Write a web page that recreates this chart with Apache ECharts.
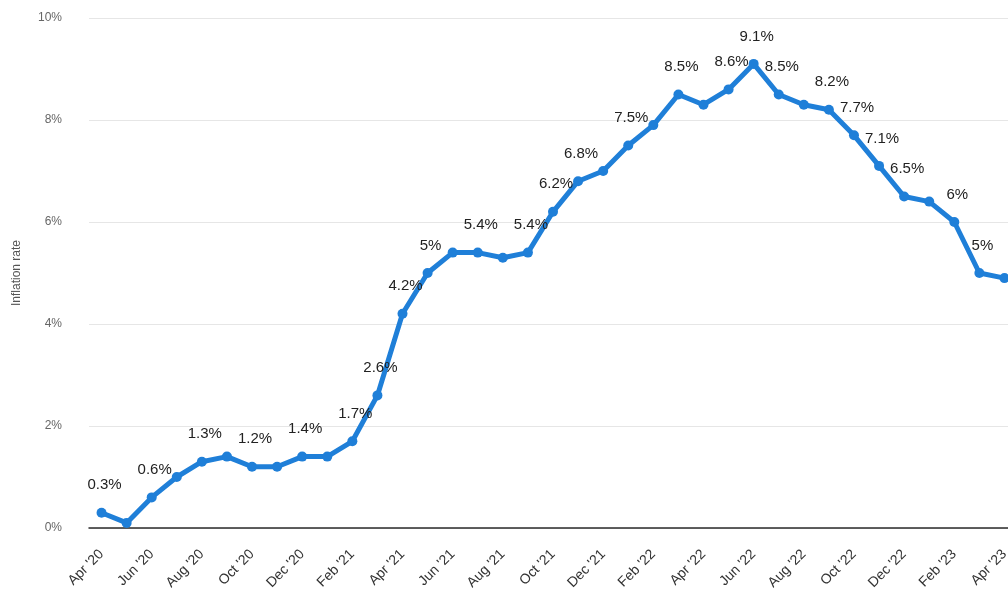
<!DOCTYPE html>
<html>
<head>
<meta charset="utf-8">
<style>
  html, body { margin: 0; padding: 0; background: #fff; }
  #chart { width: 1008px; height: 596px; }
</style>
<script src="https://cdn.jsdelivr.net/npm/echarts@6/dist/echarts.min.js"></script>
</head>
<body>
<div id="chart"></div>
<script>
// Monthly inflation rate, April 2020 – April 2023
const months = [
  "Apr '20", "May '20", "Jun '20", "Jul '20", "Aug '20", "Sep '20", "Oct '20", "Nov '20", "Dec '20",
  "Jan '21", "Feb '21", "Mar '21", "Apr '21", "May '21", "Jun '21", "Jul '21", "Aug '21", "Sep '21",
  "Oct '21", "Nov '21", "Dec '21", "Jan '22", "Feb '22", "Mar '22", "Apr '22", "May '22", "Jun '22",
  "Jul '22", "Aug '22", "Sep '22", "Oct '22", "Nov '22", "Dec '22", "Jan '23", "Feb '23", "Mar '23",
  "Apr '23"
];
const inflation = [
  0.3, 0.1, 0.6, 1.0, 1.3, 1.4, 1.2, 1.2, 1.4,
  1.4, 1.7, 2.6, 4.2, 5.0, 5.4, 5.4, 5.3, 5.4,
  6.2, 6.8, 7.0, 7.5, 7.9, 8.5, 8.3, 8.6, 9.1,
  8.5, 8.3, 8.2, 7.7, 7.1, 6.5, 6.4, 6.0, 5.0,
  4.9
];
// Months that carry a value label
const labeledMonths = [
  "Apr '20", "Jun '20", "Aug '20", "Oct '20", "Dec '20", "Feb '21", "Mar '21", "Apr '21", "May '21",
  "Jul '21", "Sep '21", "Oct '21", "Nov '21", "Jan '22", "Mar '22", "May '22", "Jun '22", "Jul '22",
  "Sep '22", "Oct '22", "Nov '22", "Dec '22", "Feb '23", "Mar '23"
];
const yTicks = { min: 0, max: 10, step: 2 };

const seriesData = inflation.map((v, i) => ({
  value: v,
  label: { show: labeledMonths.includes(months[i]) }
}));

const chart = echarts.init(document.getElementById('chart'), null, { renderer: 'canvas' });
chart.setOption({
  animation: false,
  backgroundColor: '#ffffff',
  grid: { left: 89, top: 18, bottom: 68, width: 928, outerBoundsMode: 'none', containLabel: false },
  xAxis: {
    type: 'category',
    data: months,
    boundaryGap: true,
    axisLine: { show: true, lineStyle: { color: '#2b2b2b', width: 1.5 } },
    axisTick: { show: false },
    axisLabel: {
      interval: 1,
      rotate: 45,
      color: '#333',
      fontSize: 14,
      fontFamily: 'Liberation Sans, Arial, sans-serif',
      margin: 24
    },
    splitLine: { show: false }
  },
  yAxis: {
    type: 'value',
    min: yTicks.min,
    max: yTicks.max,
    interval: yTicks.step,
    name: 'Inflation rate',
    nameLocation: 'middle',
    nameGap: 66,
    nameTextStyle: { color: '#555', fontSize: 12, fontFamily: 'Liberation Sans, Arial, sans-serif' },
    axisLine: { show: false },
    axisTick: { show: false },
    axisLabel: {
      formatter: '{value}%',
      color: '#666',
      fontSize: 12,
      margin: 27,
      fontFamily: 'Liberation Sans, Arial, sans-serif'
    },
    splitLine: { show: true, lineStyle: { color: '#e6e6e6', width: 1 } }
  },
  series: [{
    type: 'line',
    data: seriesData,
    symbol: 'circle',
    symbolSize: 10,
    showAllSymbol: true,
    lineStyle: { color: '#1f7fd8', width: 5 },
    itemStyle: { color: '#1f7fd8' },
    label: {
      position: 'top',
      distance: 15,
      offset: [3, 0],
      color: '#222',
      fontSize: 15,
      fontFamily: 'Liberation Sans, Arial, sans-serif',
      formatter: p => p.value + '%'
    },
    z: 3
  }]
});
</script>
</body>
</html>
